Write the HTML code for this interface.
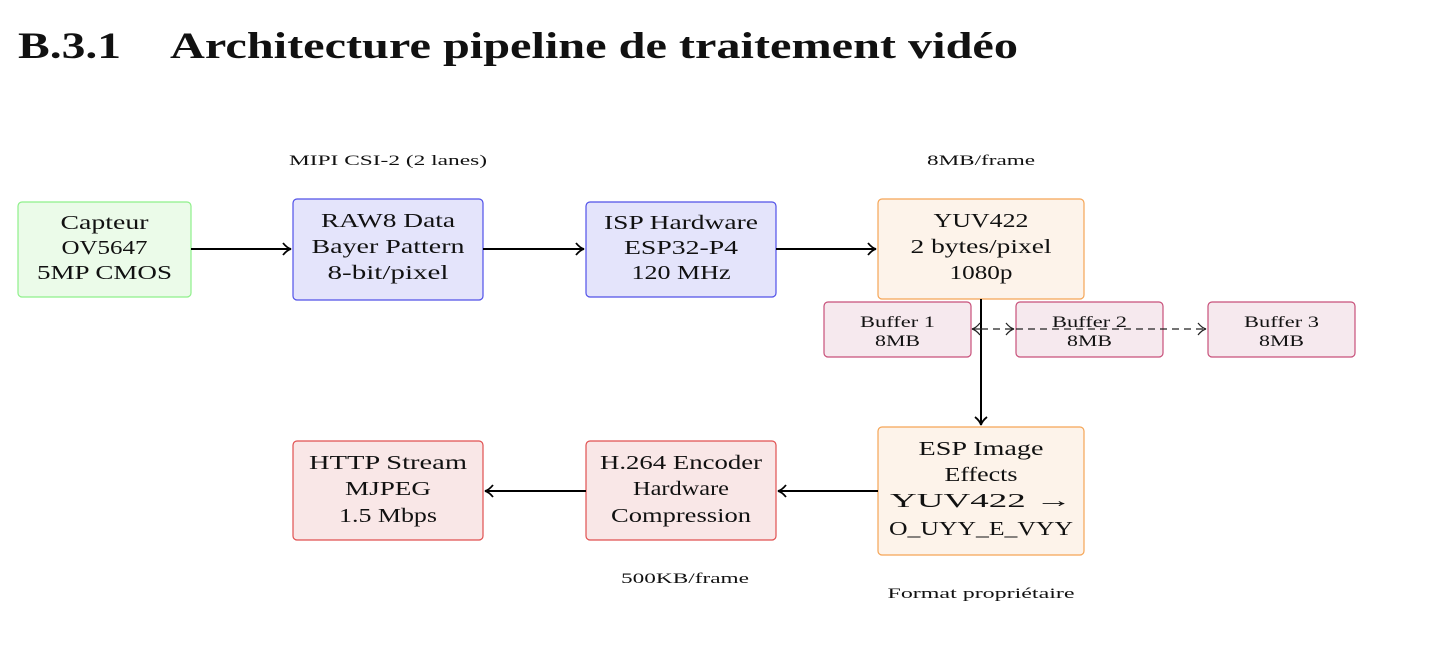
<!DOCTYPE html>
<html><head><meta charset="utf-8"><style>
body{margin:0;background:#fff;width:1456px;height:670px;overflow:hidden}
svg{display:block}
text{font-family:"Liberation Serif",serif;fill:#111}
</style></head><body>
<svg width="1456" height="670" viewBox="0 0 1456 670" xmlns="http://www.w3.org/2000/svg">
<defs>
<marker id="a" markerWidth="12" markerHeight="14" refX="10" refY="7" orient="auto" markerUnits="userSpaceOnUse">
<path d="M2,1 Q6,6 10,7 Q6,8 2,13" fill="none" stroke="#000" stroke-width="1.8"/></marker>
<marker id="b" markerWidth="12" markerHeight="14" refX="10" refY="7" orient="auto" markerUnits="userSpaceOnUse">
<path d="M2,1 Q6,6 10,7 Q6,8 2,13" fill="none" stroke="#222" stroke-width="1.2"/></marker>
</defs>
<g lengthAdjust="spacingAndGlyphs">
<text x="18" y="58" font-size="37" font-weight="bold" textLength="103" lengthAdjust="spacingAndGlyphs">B.3.1</text>
<text x="170" y="58" font-size="37" font-weight="bold" textLength="848" lengthAdjust="spacingAndGlyphs">Architecture pipeline de traitement vidéo</text>
</g>

<g font-size="15" text-anchor="middle">
<text x="388" y="165" textLength="198" lengthAdjust="spacingAndGlyphs">MIPI CSI-2 (2 lanes)</text>
<text x="981" y="165" textLength="108" lengthAdjust="spacingAndGlyphs">8MB/frame</text>
<text x="685" y="583" textLength="128" lengthAdjust="spacingAndGlyphs">500KB/frame</text>
<text x="981" y="598" textLength="187" lengthAdjust="spacingAndGlyphs">Format propriétaire</text>
</g>

<g stroke-width="1.2">
<rect x="18" y="202" width="173" height="95" rx="4" fill="#ebfbe9" stroke="#8ef08a"/>
<rect x="293" y="199" width="190" height="101" rx="4" fill="#e4e4fb" stroke="#5050e8"/>
<rect x="586" y="202" width="190" height="95" rx="4" fill="#e4e4fb" stroke="#5050e8"/>
<rect x="878" y="199" width="206" height="100" rx="4" fill="#fdf3ea" stroke="#f5a556"/>
<rect x="824" y="302" width="147" height="55" rx="4" fill="#f6e9ee" stroke="#c8507a"/>
<rect x="1016" y="302" width="147" height="55" rx="4" fill="#f6e9ee" stroke="#c8507a"/>
<rect x="1208" y="302" width="147" height="55" rx="4" fill="#f6e9ee" stroke="#c8507a"/>
<rect x="878" y="427" width="206" height="128" rx="4" fill="#fdf3ea" stroke="#f5a556"/>
<rect x="586" y="441" width="190" height="99" rx="4" fill="#f9e7e7" stroke="#e05050"/>
<rect x="293" y="441" width="190" height="99" rx="4" fill="#f9e7e7" stroke="#e05050"/>
</g>

<g stroke="#000" stroke-width="2" fill="none">
<line x1="191" y1="249" x2="291" y2="249" marker-end="url(#a)"/>
<line x1="483" y1="249" x2="584" y2="249" marker-end="url(#a)"/>
<line x1="776" y1="249" x2="876" y2="249" marker-end="url(#a)"/>
<line x1="981" y1="299" x2="981" y2="425" marker-end="url(#a)"/>
<line x1="878" y1="491" x2="778" y2="491" marker-end="url(#a)"/>
<line x1="586" y1="491" x2="485" y2="491" marker-end="url(#a)"/>
</g>
<g stroke="#222" stroke-width="1.2" fill="none" stroke-dasharray="7,5">
<line x1="981" y1="329" x2="972" y2="329" marker-end="url(#b)" stroke-dasharray="none"/>
<line x1="981" y1="329" x2="1014" y2="329" marker-end="url(#b)"/>
<line x1="1016" y1="329" x2="1206" y2="329" marker-end="url(#b)"/>
</g>

<g font-size="20" text-anchor="middle">
<text x="104.5" y="229" textLength="88" lengthAdjust="spacingAndGlyphs">Capteur</text><text x="104.5" y="254" textLength="86" lengthAdjust="spacingAndGlyphs">OV5647</text><text x="104.5" y="279" textLength="135" lengthAdjust="spacingAndGlyphs">5MP CMOS</text>
<text x="388" y="227" textLength="134" lengthAdjust="spacingAndGlyphs">RAW8 Data</text><text x="388" y="253" textLength="153" lengthAdjust="spacingAndGlyphs">Bayer Pattern</text><text x="388" y="279" textLength="121" lengthAdjust="spacingAndGlyphs">8-bit/pixel</text>
<text x="681" y="229" textLength="154" lengthAdjust="spacingAndGlyphs">ISP Hardware</text><text x="681" y="254" textLength="114" lengthAdjust="spacingAndGlyphs">ESP32-P4</text><text x="681" y="279" textLength="99" lengthAdjust="spacingAndGlyphs">120 MHz</text>
<text x="981" y="227" textLength="95" lengthAdjust="spacingAndGlyphs">YUV422</text><text x="981" y="253" textLength="141" lengthAdjust="spacingAndGlyphs">2 bytes/pixel</text><text x="981" y="279" textLength="63" lengthAdjust="spacingAndGlyphs">1080p</text>
<text x="981" y="455" textLength="125" lengthAdjust="spacingAndGlyphs">ESP Image</text><text x="981" y="481" textLength="73" lengthAdjust="spacingAndGlyphs">Effects</text><text x="981" y="507" textLength="182" lengthAdjust="spacingAndGlyphs">YUV422 →</text><text x="981" y="535" textLength="184" lengthAdjust="spacingAndGlyphs">O_UYY_E_VYY</text>
<text x="681" y="469" textLength="162" lengthAdjust="spacingAndGlyphs">H.264 Encoder</text><text x="681" y="495" textLength="96" lengthAdjust="spacingAndGlyphs">Hardware</text><text x="681" y="522" textLength="140" lengthAdjust="spacingAndGlyphs">Compression</text>
<text x="388" y="469" textLength="158" lengthAdjust="spacingAndGlyphs">HTTP Stream</text><text x="388" y="495" textLength="86" lengthAdjust="spacingAndGlyphs">MJPEG</text><text x="388" y="522" textLength="98" lengthAdjust="spacingAndGlyphs">1.5 Mbps</text>
</g>
<g font-size="16" text-anchor="middle">
<text x="897.5" y="327" textLength="75" lengthAdjust="spacingAndGlyphs">Buffer 1</text><text x="897.5" y="346" textLength="45" lengthAdjust="spacingAndGlyphs">8MB</text>
<text x="1089.5" y="327" textLength="75" lengthAdjust="spacingAndGlyphs">Buffer 2</text><text x="1089.5" y="346" textLength="45" lengthAdjust="spacingAndGlyphs">8MB</text>
<text x="1281.5" y="327" textLength="75" lengthAdjust="spacingAndGlyphs">Buffer 3</text><text x="1281.5" y="346" textLength="45" lengthAdjust="spacingAndGlyphs">8MB</text>
</g>
</svg>
</body></html>
